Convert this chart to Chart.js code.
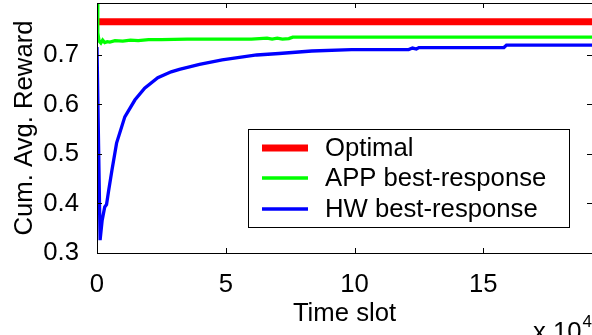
<!DOCTYPE html>
<html><head><meta charset="utf-8">
<script src="https://cdn.jsdelivr.net/npm/chart.js@4/dist/chart.umd.min.js"></script>
<style>html,body{margin:0;padding:0;background:#fff;} #wrap{width:592px;height:335px;position:relative;}</style>
</head><body><div id="wrap"><canvas id="c" width="592" height="335"></canvas></div>
<script>
// ---- data (x in units of 10^4 time slots) ----
const xTickValues = [0, 5, 10, 15];
const yTickValues = [0.3, 0.4, 0.5, 0.6, 0.7];
const seriesLabels = ['Optimal', 'APP best-response', 'HW best-response'];
const seriesColors = ['#ff0000', '#00ff00', '#0000ff'];
const optimalX = [0, 19.3];
const optimalY = [0.767, 0.767];
const appX = [0, 0.03, 0.08, 0.15, 0.22, 0.3, 0.4, 0.5, 0.7, 1.0, 1.3, 1.6, 2.0, 2.5, 3.5, 4.5, 6.0, 6.6, 6.8, 7.0, 7.2, 7.45, 7.6, 10, 15, 19.3];
const appY = [0.85, 0.745, 0.728, 0.724, 0.73, 0.725, 0.727, 0.726, 0.729, 0.728, 0.730, 0.729, 0.731, 0.731, 0.732, 0.732, 0.732, 0.734, 0.732, 0.734, 0.732, 0.733, 0.736, 0.736, 0.736, 0.736];
const hwX = [0, 0.12, 0.2, 0.3, 0.37, 0.45, 0.58, 0.76, 1.08, 1.47, 1.85, 2.36, 2.88, 3.2, 3.98, 4.86, 6.2, 7.07, 8.34, 9.88, 12.1, 12.25, 12.4, 12.5, 15.8, 15.9, 19.3];
const hwY = [0.716, 0.326, 0.366, 0.393, 0.398, 0.425, 0.467, 0.522, 0.575, 0.609, 0.633, 0.654, 0.666, 0.671, 0.681, 0.690, 0.700, 0.703, 0.708, 0.711, 0.711, 0.714, 0.712, 0.715, 0.715, 0.720, 0.720];
const xAxisTitle = 'Time slot';
const yAxisTitle = 'Cum. Avg. Reward';
const xExponentBase = 'x 10';
const xExponent = '4';

const FONT = 'Liberation Sans, Arial, Helvetica, sans-serif';
const FS = 25.7;
const toPts = (xs, ys) => xs.map((x, i) => ({x: x, y: ys[i]}));

const frame = {
  id: 'frame',
  afterDraw(chart) {
    const ctx = chart.ctx, a = chart.chartArea;
    const xs = chart.scales.x, ys = chart.scales.y;
    ctx.save();
    ctx.strokeStyle = '#000'; ctx.lineWidth = 1;
    ctx.strokeRect(Math.round(a.left) + 0.5, Math.round(a.top) + 0.5, Math.round(a.right - a.left), Math.round(a.bottom - a.top));
    ctx.beginPath();
    xTickValues.forEach(v => {
      const px = Math.round(xs.getPixelForValue(v)) + 0.5;
      ctx.moveTo(px, a.bottom); ctx.lineTo(px, a.bottom - 5);
      ctx.moveTo(px, a.top); ctx.lineTo(px, a.top + 5);
    });
    yTickValues.forEach(v => {
      const py = Math.round(ys.getPixelForValue(v)) + 0.5;
      ctx.moveTo(a.left, py); ctx.lineTo(a.left + 5, py);
      ctx.moveTo(a.right, py); ctx.lineTo(a.right - 5, py);
    });
    ctx.stroke();
    // exponent label
    ctx.fillStyle = '#000';
    ctx.textBaseline = 'alphabetic'; ctx.textAlign = 'left';
    ctx.font = FS + 'px ' + FONT;
    ctx.fillText(xExponentBase, 533, 339.5);
    const w = ctx.measureText(xExponentBase).width;
    ctx.font = '17px ' + FONT;
    ctx.fillText(xExponent, 533 + w + 1, 327);
    // legend
    const L = {x: 248, y: 129, w: 321, h: 98};
    ctx.fillStyle = '#fff';
    ctx.fillRect(L.x, L.y, L.w, L.h);
    ctx.strokeRect(L.x + 0.5, L.y + 0.5, L.w, L.h);
    const rows = [148, 178, 209];
    chart.data.datasets.forEach((ds, i) => {
      ctx.strokeStyle = ds.borderColor; ctx.lineWidth = ds.borderWidth;
      ctx.beginPath(); ctx.moveTo(262, rows[i]); ctx.lineTo(308, rows[i]); ctx.stroke();
      ctx.fillStyle = '#000'; ctx.font = FS + 'px ' + FONT; ctx.textBaseline = 'middle';
      ctx.fillText(ds.label, 325, rows[i] + 1);
    });
    ctx.restore();
  }
};

new Chart(document.getElementById('c'), {
  type: 'line',
  data: {
    datasets: [
      {label: seriesLabels[0], data: toPts(optimalX, optimalY), borderColor: seriesColors[0], borderWidth: 7, order: 3},
      {label: seriesLabels[1], data: toPts(appX, appY), borderColor: seriesColors[1], borderWidth: 3.3, order: 2},
      {label: seriesLabels[2], data: toPts(hwX, hwY), borderColor: seriesColors[2], borderWidth: 3.3, order: 1}
    ].map(d => Object.assign(d, {pointRadius: 0, tension: 0, fill: false, clip: 0, backgroundColor: d.borderColor}))
  },
  options: {
    responsive: false, animation: false, devicePixelRatio: 1,
    layout: {padding: {top: 3, right: 0, left: 0, bottom: 0}},
    plugins: {legend: {display: false}, tooltip: {enabled: false}},
    scales: {
      x: {
        type: 'linear', min: 0, max: 19.22,
        afterBuildTicks: s => { s.ticks = xTickValues.map(v => ({value: v})); },
        afterFit: s => { s.height = 82; s.paddingLeft = 0; s.paddingRight = 0; },
        grid: {display: false}, border: {display: false},
        ticks: {color: '#000', font: {family: FONT, size: FS}, padding: 8, maxRotation: 0, autoSkip: false},
        title: {display: true, text: xAxisTitle, color: '#000', font: {family: FONT, size: FS}, padding: {top: 0, bottom: 6}}
      },
      y: {
        type: 'linear', min: 0.3, max: 0.805,
        afterBuildTicks: s => { s.ticks = yTickValues.map(v => ({value: v})); },
        afterFit: s => { s.width = 97; s.paddingTop = 0; s.paddingBottom = 0; },
        grid: {display: false}, border: {display: false},
        ticks: {color: '#000', font: {family: FONT, size: FS}, padding: 10, callback: v => v.toFixed(1)},
        title: {display: true, text: yAxisTitle, color: '#000', font: {family: FONT, size: FS}, padding: {top: 9, bottom: 0}}
      }
    }
  },
  plugins: [frame]
});
</script></body></html>
